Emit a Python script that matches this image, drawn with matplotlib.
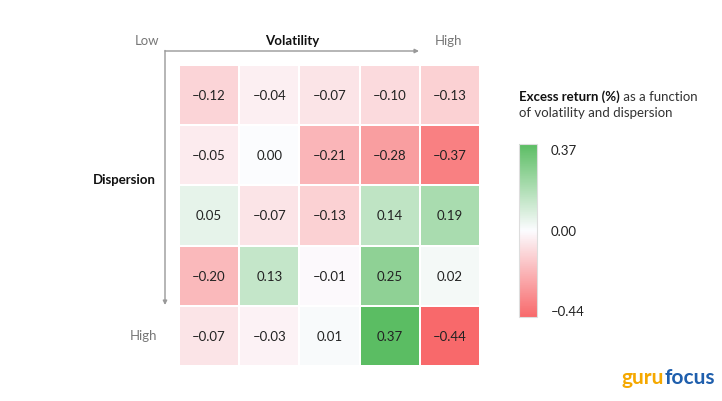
import numpy as np
import matplotlib
matplotlib.use("Agg")
import matplotlib.pyplot as plt
from matplotlib.colors import LinearSegmentedColormap, TwoSlopeNorm

plt.rcParams['font.family'] = ['Lato', 'DejaVu Sans']

volatility_levels = ["Low", "2", "3", "4", "High"]
dispersion_levels = ["Low", "2", "3", "4", "High"]
values = np.array([
    [-0.12, -0.04, -0.07, -0.10, -0.13],
    [-0.05, 0.00, -0.21, -0.28, -0.37],
    [0.05, -0.07, -0.13, 0.14, 0.19],
    [-0.20, 0.13, -0.01, 0.25, 0.02],
    [-0.07, -0.03, 0.01, 0.37, -0.44],
])
cbar_ticks = [-0.44, 0.00, 0.37]

W, H = 722, 402
fig = plt.figure(figsize=(W / 100, H / 100), dpi=100)

def rect(x0, y0, x1, y1):
    return [x0 / W, 1 - y1 / H, (x1 - x0) / W, (y1 - y0) / H]

cmap = LinearSegmentedColormap.from_list("rwg", ["#F8696B", "#FCFCFF", "#5BBD63"])
norm = TwoSlopeNorm(vmin=values.min(), vcenter=0.0, vmax=values.max())

def fmt(v):
    s = f"{v:.2f}"
    return s.replace("-", "\u2013")

ax = fig.add_axes(rect(179, 66, 480, 367))
nr, nc = values.shape
ax.pcolormesh(np.arange(nc + 1), np.arange(nr + 1), values, cmap=cmap, norm=norm,
              edgecolors="white", linewidth=1.4)
ax.set_xlim(0, nc)
ax.set_ylim(nr, 0)
for i in range(nr):
    for j in range(nc):
        ax.text(j + 0.5, i + 0.5, fmt(values[i, j]), ha="center", va="center",
                fontsize=9.5, color="#222222")
ax.set_axis_off()

# overlay axes in pixel coordinates for arrows and labels
ov = fig.add_axes([0, 0, 1, 1], zorder=-1)
ov.set_xlim(0, W)
ov.set_ylim(H, 0)
ov.set_axis_off()

ov.annotate("", xy=(419, 52), xytext=(165, 52),
            arrowprops=dict(arrowstyle="-|>", color="#999999", lw=1.0,
                            mutation_scale=6, shrinkA=0, shrinkB=0))
ov.annotate("", xy=(165, 306), xytext=(165, 51.5),
            arrowprops=dict(arrowstyle="-|>", color="#999999", lw=1.0,
                            mutation_scale=6, shrinkA=0, shrinkB=0))

ov.text(147, 41, volatility_levels[0], ha="center", va="center", fontsize=9.5, color="#777777")
ov.text(292, 41, "Volatility", ha="center", va="center", fontsize=9.5,
        fontweight="bold", color="#111111")
ov.text(448, 41, volatility_levels[-1], ha="center", va="center", fontsize=9.5, color="#777777")
ov.text(156, 180, "Dispersion", ha="right", va="center", fontsize=9.5,
        fontweight="bold", color="#111111")
ov.text(157, 336, dispersion_levels[-1], ha="right", va="center", fontsize=9.5, color="#777777")

t1 = ov.text(519, 97, "Excess return (%)", ha="left", va="center", fontsize=9.5,
             fontweight="bold", color="#111111")
ov.annotate(" as a function", xy=(1, 0), xycoords=t1, ha="left", va="bottom",
            fontsize=9.5, color="#333333")
ov.text(519, 113, "of volatility and dispersion", ha="left", va="center",
        fontsize=9.5, color="#333333")

# colorbar
cax = fig.add_axes(rect(519, 145, 537, 318))
sm = plt.cm.ScalarMappable(norm=norm, cmap=cmap)
cb = fig.colorbar(sm, cax=cax, ticks=cbar_ticks)
cb.outline.set_edgecolor("#dddddd")
cb.outline.set_linewidth(0.8)
cb.ax.tick_params(length=0, pad=10, labelsize=9.5, labelcolor="#222222")
cb.ax.set_yticklabels([fmt(t) for t in cbar_ticks])
labs = cb.ax.get_yticklabels()
labs[0].set_va("bottom")
labs[-1].set_va("top")

# logo
tg = ov.text(622, 378, "guru", ha="left", va="center", fontsize=15,
             fontweight="bold", color="#F5A800")
ov.annotate("focus", xy=(1, 0), xycoords=tg, ha="left", va="bottom",
            fontsize=15, fontweight="bold", color="#1F5FAD")

fig.savefig("out.png", dpi=100)
